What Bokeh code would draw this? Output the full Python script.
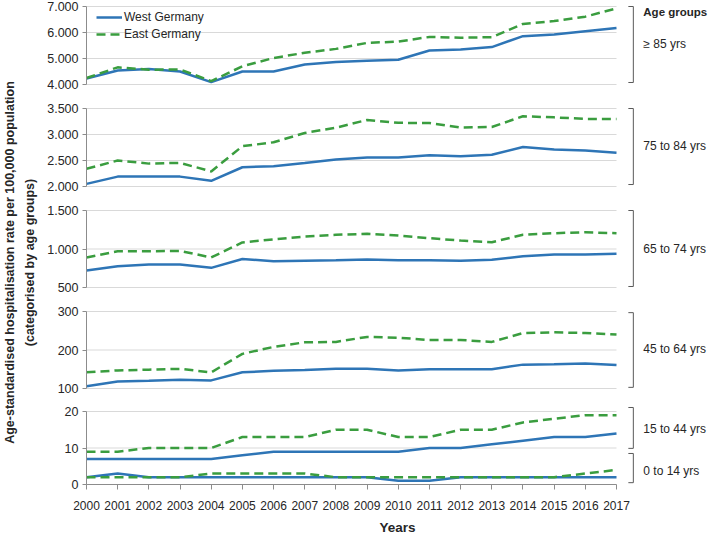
import math
from bokeh.plotting import figure
from bokeh.models import Range1d, FixedTicker, Label, Legend, LegendItem
from bokeh.layouts import column, row
from bokeh.embed import file_html
from bokeh.resources import INLINE
from bokeh.core.properties import value

# ---------------- data ----------------
years = list(range(2000, 2018))

west_85 = [4230, 4540, 4600, 4500, 4090, 4500, 4500, 4770, 4870, 4910, 4950, 5310, 5350, 5440, 5860, 5920, 6050, 6170]
east_85 = [4250, 4660, 4570, 4580, 4130, 4700, 5020, 5220, 5370, 5600, 5650, 5830, 5800, 5820, 6330, 6440, 6610, 6930]

west_75 = [2050, 2190, 2190, 2190, 2110, 2370, 2390, 2450, 2520, 2560, 2560, 2600, 2580, 2610, 2760, 2710, 2690, 2650]
east_75 = [2340, 2500, 2440, 2455, 2290, 2775, 2850, 3030, 3130, 3280, 3225, 3220, 3135, 3145, 3350, 3330, 3300, 3300]

west_65 = [720, 775, 800, 800, 755, 870, 840, 848, 855, 864, 855, 855, 848, 860, 906, 928, 928, 938]
east_65 = [890, 970, 970, 975, 890, 1085, 1125, 1162, 1184, 1197, 1175, 1140, 1110, 1088, 1184, 1205, 1218, 1205]

west_45 = [106, 118, 120, 123, 121, 142, 146, 148, 151, 151, 147, 150, 150, 150, 162, 163, 165, 161]
east_45 = [142, 147, 149, 151, 142, 190, 208, 220, 221, 234, 232, 226, 226, 221, 244, 246, 244, 240]

west_15 = [7, 7, 7, 7, 7, 8, 9, 9, 9, 9, 9, 10, 10, 11, 12, 13, 13, 14]
east_15 = [9, 9, 10, 10, 10, 13, 13, 13, 15, 15, 13, 13, 15, 15, 17, 18, 19, 19]

west_0 = [2, 3, 2, 2, 2, 2, 2, 2, 2, 2, 1, 1, 2, 2, 2, 2, 2, 2]
east_0 = [2, 2, 2, 2, 3, 3, 3, 3, 2, 2, 2, 2, 2, 2, 2, 2, 3, 4]

ticks_85 = [4000, 5000, 6000, 7000]
labels_85 = ["4.000", "5.000", "6.000", "7.000"]
ticks_75 = [2000, 2500, 3000, 3500]
labels_75 = ["2.000", "2.500", "3.000", "3.500"]
ticks_65 = [500, 1000, 1500]
labels_65 = ["500", "1.000", "1.500"]
ticks_45 = [100, 200, 300]
labels_45 = ["100", "200", "300"]
ticks_young = [0, 10, 20]
labels_young = ["0", "10", "20"]

series_names = ["West Germany", "East Germany"]
group_labels = ["\u2265 85 yrs", "75 to 84 yrs", "65 to 74 yrs", "45 to 64 yrs", "15 to 44 yrs", "0 to 14 yrs"]
legend_title = "Age groups"
y_title_1 = "Age-standardised hospitalisation rate per 100,000 population"
y_title_2 = "(categorised by age groups)"
x_title = "Years"

# ---------------- style ----------------
FONT = "Liberation Sans"
BLUE = "#2E75B6"
GREEN = "#3A9D3F"
GRID = "#d9d9d9"
AXIS = "#8c8c8c"
TEXT = "#262626"
TITLE_W = 40
LEFT = 46
FRAME_W = 622
PX_PER_YEAR = 530 / 17.0
x_range = Range1d(2000, 2000 + FRAME_W / PX_PER_YEAR)
XB = 2017.54          # bracket x
XT = 2017.38          # bracket tick start
XL = 2017.86          # label x


def make_range(v_top, y_t, v_bot, y_b, H):
    s = (v_top - v_bot) / (y_b - y_t)
    return Range1d(v_bot - (H - y_b) * s, v_top + y_t * s)


def panel(H, yr, ticks, tick_labels, bottom=False):
    p = figure(frame_width=FRAME_W, frame_height=H, x_range=x_range, y_range=yr,
               output_backend="svg", toolbar_location=None, tools="",
               min_border_left=LEFT, min_border_right=0, min_border_top=0,
               min_border_bottom=(49 if bottom else 0),
               x_axis_location=("below" if bottom else None))
    p.outline_line_color = None
    p.background_fill_color = "white"
    p.border_fill_color = "white"
    p.xgrid.visible = False
    p.ygrid.visible = False
    ax = p.yaxis[0]
    ax.ticker = FixedTicker(ticks=ticks)
    ax.major_label_overrides = {t: l for t, l in zip(ticks, tick_labels)}
    ax.bounds = (ticks[0], ticks[-1])
    ax.axis_line_color = AXIS
    ax.major_tick_line_color = AXIS
    ax.major_tick_out = 4
    ax.major_tick_in = 0
    ax.minor_tick_line_color = None
    ax.major_label_standoff = 4
    ax.major_label_text_font = FONT
    ax.major_label_text_font_size = "12.5px"
    ax.major_label_text_color = TEXT
    # gridlines
    p.segment(x0=[years[0]] * len(ticks), x1=[years[-1]] * len(ticks), y0=ticks, y1=ticks,
              line_color=GRID, line_width=1)
    if bottom:
        bx = p.xaxis[0]
        bx.ticker = FixedTicker(ticks=years)
        bx.bounds = (years[0], years[-1])
        bx.axis_line_color = AXIS
        bx.major_tick_line_color = AXIS
        bx.major_tick_out = 5
        bx.major_tick_in = 0
        bx.minor_tick_line_color = None
        bx.major_label_standoff = 11
        bx.major_label_text_font = FONT
        bx.major_label_text_font_size = "12px"
        bx.major_label_text_color = TEXT
        bx.axis_label = x_title
        bx.axis_label_text_font = FONT
        bx.axis_label_text_font_style = "bold"
        bx.axis_label_text_font_size = "13.5px"
        bx.axis_label_text_color = TEXT
        bx.axis_label_standoff = 7
    return p


def lines(p, w, e):
    rw = p.line(years, w, line_color=BLUE, line_width=2.5)
    re = p.line(years, e, line_color=GREEN, line_width=2.5, line_dash="9 5")
    return rw, re


def bracket(p, y_lo, y_hi, label, y_label, bold_title=None, y_title=None):
    p.segment(x0=[XB, XT, XT], x1=[XB, XB, XB], y0=[y_lo, y_lo, y_hi], y1=[y_hi, y_lo, y_hi],
              line_color="#595959", line_width=1)
    p.text(x=[XL], y=[y_label], text=[label], text_font=value(FONT), text_font_size="12px",
           text_baseline="middle", text_align="left", text_color=TEXT)
    if bold_title is not None:
        p.text(x=[XL], y=[y_title], text=[bold_title], text_font=value(FONT), text_font_size="11.5px",
               text_font_style="bold", text_baseline="middle", text_align="left", text_color=TEXT)


# panel 1: >= 85
p1 = panel(96, make_range(7000, 6, 4000, 84, 96), ticks_85, labels_85)
w1, e1 = lines(p1, west_85, east_85)
bracket(p1, 4077, 7000, group_labels[0], 5540, legend_title, 6770)
legend = Legend(items=[LegendItem(label=series_names[0], renderers=[w1]),
                       LegendItem(label=series_names[1], renderers=[e1])],
                location="top_left", margin=10, padding=0, spacing=3,
                glyph_width=26, glyph_height=10, label_height=10, label_standoff=2,
                label_text_font=FONT, label_text_font_size="12px", label_text_color=TEXT,
                background_fill_alpha=0, border_line_color=None)
p1.add_layout(legend)

# panel 2: 75-84
p2 = panel(102, make_range(3500, 12, 2000, 90, 102), ticks_75, labels_75)
lines(p2, west_75, east_75)
bracket(p2, 2038, 3500, group_labels[1], 2770)

# panel 3: 65-74
p3 = panel(101, make_range(1500, 12, 500, 89, 101), ticks_65, labels_65)
lines(p3, west_65, east_65)
bracket(p3, 513, 1500, group_labels[2], 1006)

# panel 4: 45-64
p4 = panel(101, make_range(300, 12, 100, 89, 101), ticks_45, labels_45)
lines(p4, west_45, east_45)
bracket(p4, 103, 297, group_labels[3], 203)

# panel 5: 15-44 and 0-14
p5 = panel(84, make_range(20, 11, 0, 84, 84), ticks_young, labels_young, bottom=True)
lines(p5, west_15, east_15)
lines(p5, west_0, east_0)
bracket(p5, 9.9, 21.1, group_labels[4], 15.3)
bracket(p5, 0.5, 8.5, group_labels[5], 3.8)

# y title figure
TH = 533
pt = figure(frame_width=TITLE_W, frame_height=TH, x_range=Range1d(0, TITLE_W), y_range=Range1d(0, TH),
            output_backend="svg", toolbar_location=None, tools="",
            min_border=0, x_axis_location=None, y_axis_location=None)
pt.outline_line_color = None
pt.xgrid.visible = False
pt.ygrid.visible = False
pt.add_layout(Label(x=9, y=TH - 262, text=y_title_1, angle=math.pi / 2, text_align="center",
                    text_baseline="middle", text_font=FONT, text_font_size="12.5px",
                    text_font_style="bold", text_color=TEXT))
pt.add_layout(Label(x=29, y=TH - 262, text=y_title_2, angle=math.pi / 2, text_align="center",
                    text_baseline="middle", text_font=FONT, text_font_size="12.5px",
                    text_font_style="bold", text_color=TEXT))

layout = row(pt, column(p1, p2, p3, p4, p5, spacing=0), spacing=0)

open("out.html", "w").write(file_html(layout, INLINE))
